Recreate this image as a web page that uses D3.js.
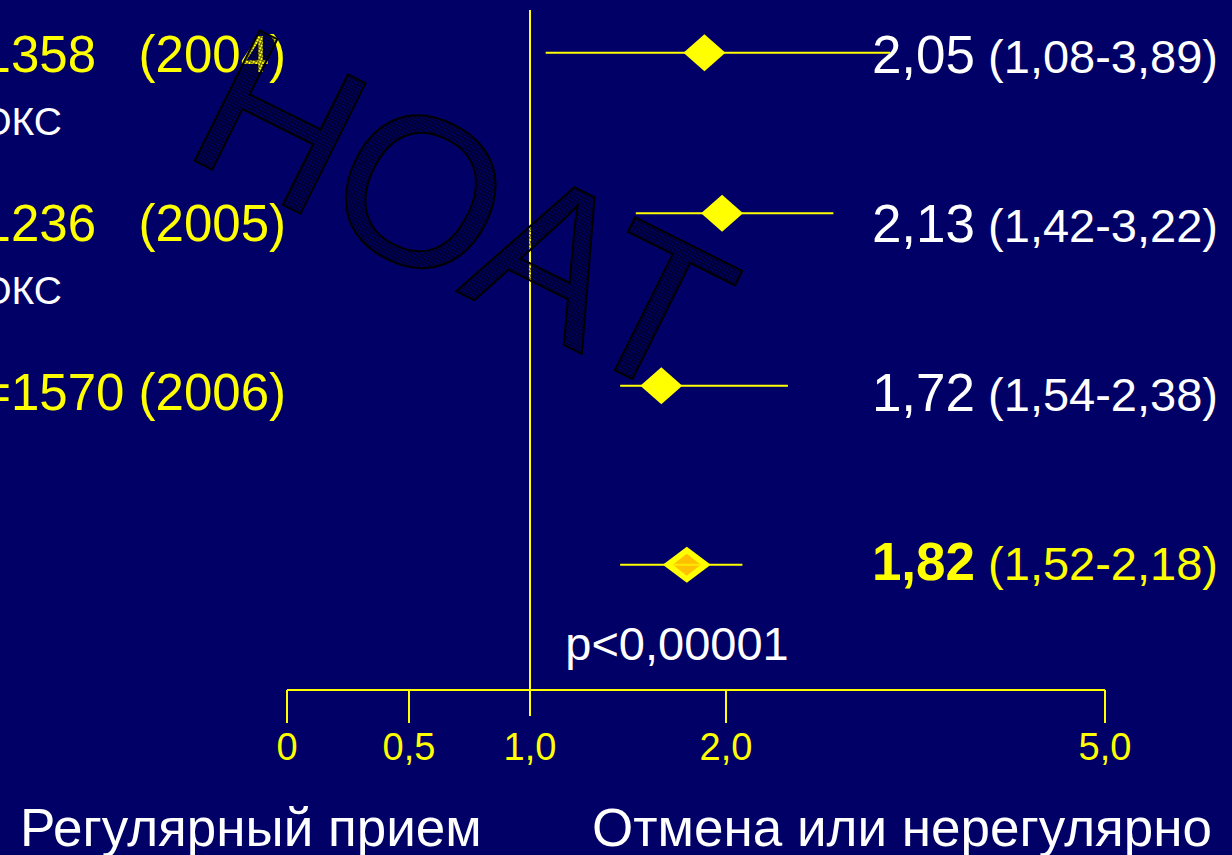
<!DOCTYPE html>
<html><head><meta charset="utf-8">
<script src="https://cdn.jsdelivr.net/npm/d3@7/dist/d3.min.js"></script>
<style>
html,body{margin:0;padding:0;background:#000066;overflow:hidden;}
svg{display:block;}
text{font-family:"Liberation Sans",Arial,sans-serif;white-space:pre;}
</style></head><body>
<svg id="chart" width="1232" height="855"></svg>
<script>
// ---- data ----
const studyLabels = ["n=1358   (2004)", "n=1236   (2005)", "n=1570 (2006)"];
const studySubLabels = ["ОКС", "ОКС", ""];
const estLabels = ["2,05", "2,13", "1,72", "1,82"];
const ciLabels = ["(1,08-3,89)", "(1,42-3,22)", "(1,54-2,38)", "(1,52-2,18)"];
// marker positions as read against the axis
const estimates = [1.89, 1.98, 1.67, 1.80];
const lowers    = [1.08, 1.54, 1.46, 1.46];
const uppers    = [3.30, 2.85, 2.49, 2.13];
const markerRows = [-0.12, 0.83, 1.85, 2.91];
const tickValues = [0, 0.5, 1, 2, 5];
const tickLabels = ["0", "0,5", "1,0", "2,0", "5,0"];
const pText = "p<0,00001";
const leftCaption = "Регулярный прием";
const rightCaption = "Отмена или нерегулярно";
const watermark = "НОАТ";

const svg = d3.select("#chart");
const W = 1232, H = 855;
svg.append("rect").attr("width", W).attr("height", H).attr("fill", "#000066");

const x = d3.scaleLinear().domain(tickValues).range([287, 409, 530, 726, 1105]);
const row = d3.scaleLinear().domain([0, 3]).range([73, 580]);
const yellow = "#FFFF00";

// reference line at 1.0
svg.append("line").attr("x1", x(1)).attr("x2", x(1)).attr("y1", 10).attr("y2", 716)
  .attr("stroke", yellow).attr("stroke-width", 2);

// axis
const axisY = 690;
svg.append("line").attr("x1", x(0)).attr("x2", x(5)).attr("y1", axisY).attr("y2", axisY)
  .attr("stroke", yellow).attr("stroke-width", 2);
svg.selectAll(".tick").data(tickValues.filter(v => v !== 1)).enter().append("line")
  .attr("x1", d => x(d)).attr("x2", d => x(d)).attr("y1", axisY).attr("y2", axisY + 33)
  .attr("stroke", yellow).attr("stroke-width", 2);
svg.selectAll(".tl").data(tickValues).enter().append("text")
  .attr("x", d => x(d)).attr("y", 760).attr("text-anchor", "middle")
  .attr("fill", yellow).attr("font-size", 38).text((d, i) => tickLabels[i]);

// left labels
studyLabels.forEach((s, i) => {
  svg.append("text").attr("x", 286).attr("y", row(i) - 1).attr("text-anchor", "end")
    .attr("fill", yellow).attr("font-size", 51).text(s);
  if (studySubLabels[i]) {
    svg.append("text").attr("x", 62).attr("y", row(i) + 62).attr("text-anchor", "end")
      .attr("fill", "#ffffff").attr("font-size", 39).text(studySubLabels[i]);
  }
});

// right labels
estLabels.forEach((e, i) => {
  const summary = i === 3;
  const t = svg.append("text").attr("x", 1218).attr("y", row(i)).attr("text-anchor", "end")
    .attr("fill", summary ? yellow : "#ffffff");
  t.append("tspan").attr("font-size", 53).attr("font-weight", summary ? "bold" : "normal").text(e);
  t.append("tspan").attr("font-size", 47).text(" " + ciLabels[i]);
});

// p-value
svg.append("text").attr("x", 677).attr("y", 660).attr("text-anchor", "middle")
  .attr("fill", "#ffffff").attr("font-size", 47).text(pText);

// CI lines
svg.selectAll(".ci").data(estimates).enter().append("line")
  .attr("x1", (d, i) => x(lowers[i])).attr("x2", (d, i) => x(uppers[i]))
  .attr("y1", (d, i) => row(markerRows[i])).attr("y2", (d, i) => row(markerRows[i]))
  .attr("stroke", yellow).attr("stroke-width", 2);

// diamonds
const dia = (cx, cy, hw, hh) => `M${cx - hw},${cy}L${cx},${cy - hh}L${cx + hw},${cy}L${cx},${cy + hh}Z`;
estimates.forEach((e, i) => {
  const cx = x(e), cy = row(markerRows[i]);
  if (i < 3) {
    svg.append("path").attr("d", dia(cx, cy, 21, 18.5)).attr("fill", yellow);
  } else {
    svg.append("path").attr("d", dia(cx, cy, 24, 18)).attr("fill", yellow);
    svg.append("path").attr("d", dia(cx, cy, 14, 11)).attr("fill", "#FFC000");
    svg.append("line").attr("x1", cx - 14).attr("x2", cx + 14).attr("y1", cy).attr("y2", cy)
      .attr("stroke", "#FFE800").attr("stroke-width", 2);
  }
});

// bottom captions
svg.append("text").attr("x", 20).attr("y", 846).attr("fill", "#ffffff").attr("font-size", 53).text(leftCaption);
svg.append("text").attr("x", 1212).attr("y", 846).attr("text-anchor", "end").attr("fill", "#ffffff").attr("font-size", 53).text(rightCaption);

// watermark
const defs = svg.append("defs");
const pat = defs.append("pattern").attr("id", "hatch").attr("width", 3).attr("height", 3)
  .attr("patternUnits", "userSpaceOnUse");
pat.append("path").attr("d", "M0,0.5H3M0.5,0V3").attr("stroke", "#000000").attr("stroke-width", 1).attr("opacity", 0.6);
svg.append("text").attr("transform", "translate(179,153) rotate(26.5)")
  .attr("font-size", 212).attr("letter-spacing", -2).attr("fill", "url(#hatch)").attr("stroke", "#000000").attr("stroke-width", 2)
  .text(watermark);
</script>
</body></html>
